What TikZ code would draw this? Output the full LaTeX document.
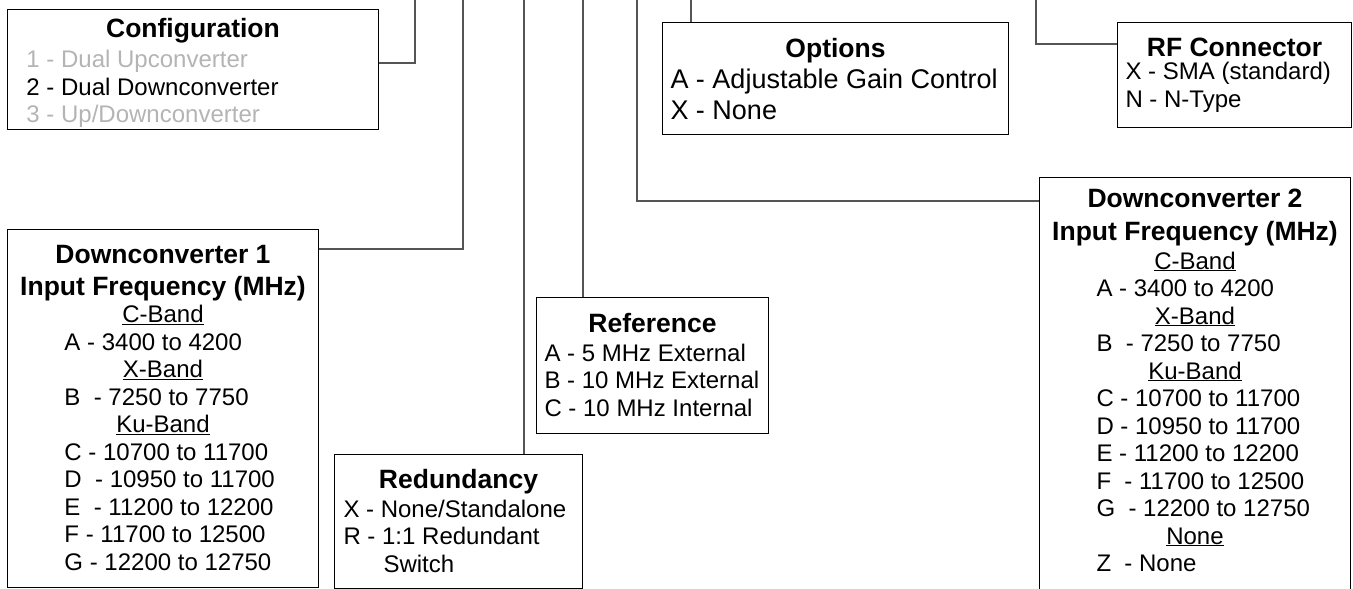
\documentclass[tikz,border=0pt]{standalone}
\usepackage{fontspec}
\setmainfont{Liberation Sans}
\usetikzlibrary{positioning}

\definecolor{wire}{HTML}{555555}
\definecolor{dim}{HTML}{B4B4B4}

\newcommand{\boxtext}[5][24]{\parbox[c][#4pt][t]{#3pt}{\fontsize{#1}{#2}\selectfont #5}}
\newcommand{\ttl}[2]{\hbox to\hsize{\hss\rule{0pt}{#1pt}\bfseries\fontsize{26.5}{30}\selectfont #2\hss}}
\newcommand{\hdr}[1]{\hbox to\hsize{\hss\underline{#1}\hss}}
\newcommand{\itm}[2]{\hbox to\hsize{\hskip#1pt #2\hss}}

\begin{document}
\begin{tikzpicture}[x=1pt,y=-1pt,
  box/.style={draw, line width=1pt, inner sep=0pt, anchor=north west},
  wire/.style={draw=wire, line width=1.5pt}]
\useasboundingbox (0,0) rectangle (1353,589);
\clip (0,0) rectangle (1353,589);

\node (cfg) [box] at (7,9) {\boxtext{27.5}{371}{120}{\ttl{27.5}{Configuration}\vskip3pt
  \itm{19}{\color{dim}1 - Dual Upconverter}
  \itm{19}{2 - Dual Downconverter}
  \itm{19}{\color{dim}3 - Up/Downconverter}}};
\node (opt) [box] at (662,22) {\boxtext[27]{31}{346}{112}{\ttl{34.5}{Options}
  \itm{8}{A - Adjustable Gain Control}
  \itm{8}{X - None}}};
\node (rf) [box] at (1117,22) {\boxtext{27.5}{234}{105}{\ttl{34}{RF Connector}\vskip-4.5pt
  \itm{8}{X - SMA (standard)}
  \itm{8}{N - N-Type}}};
\node (dc1) [box] at (7,229) {\boxtext{27.5}{311}{358}{\ttl{33.5}{Downconverter 1}\vskip4.5pt
  \ttl{0}{Input Frequency (MHz)}
  \hdr{C-Band}
  \itm{57}{A - 3400 to 4200}
  \hdr{X-Band}
  \itm{57}{B~ - 7250 to 7750}
  \hdr{Ku-Band}
  \itm{57}{C - 10700 to 11700}
  \itm{57}{D~ - 10950 to 11700}
  \itm{57}{E~ - 11200 to 12200}
  \itm{57}{F - 11700 to 12500}
  \itm{57}{G - 12200 to 12750}}};
\node (ref) [box] at (536,297) {\boxtext{27.5}{232}{136}{\ttl{34.5}{Reference}\vskip1.5pt
  \itm{8}{A - 5 MHz External}
  \itm{8}{B - 10 MHz External}
  \itm{8}{C - 10 MHz Internal}}};
\node (red) [box] at (334,454) {\boxtext{27.5}{248}{134}{\ttl{33.5}{Redundancy}\vskip1.5pt
  \itm{9}{X - None/Standalone}
  \itm{9}{R - 1:1 Redundant}
  \itm{49}{Switch}}};
\node (dc2) [box] at (1039,177) {\boxtext{27.5}{311}{430}{\ttl{30}{Downconverter 2}\vskip5.5pt
  \ttl{0}{Input Frequency (MHz)}\vskip1pt
  \hdr{C-Band}
  \itm{57}{A - 3400 to 4200}
  \hdr{X-Band}
  \itm{57}{B~ - 7250 to 7750}
  \hdr{Ku-Band}
  \itm{57}{C - 10700 to 11700}
  \itm{57}{D - 10950 to 11700}
  \itm{57}{E - 11200 to 12200}
  \itm{57}{F~ - 11700 to 12500}
  \itm{57}{G~ - 12200 to 12750}
  \hdr{None}
  \itm{57}{Z~ - None}}};

\coordinate (cfgbend) at (415,63);
\coordinate (dc1bend) at (463,249);
\coordinate (redtop) at (524,0);
\coordinate (reftop) at (583,0);
\coordinate (dc2bend) at (637,201);
\coordinate (opttop) at (691,0);
\coordinate (rfbend) at (1036,44);

\draw [wire] (cfg.east|-cfgbend) -- (cfgbend) -- (cfgbend|-redtop);
\draw [wire] (dc1.east|-dc1bend) -- (dc1bend) -- (dc1bend|-redtop);
\draw [wire] (red.north-|redtop) -- (redtop);
\draw [wire] (ref.north-|reftop) -- (reftop);
\draw [wire] (dc2.west|-dc2bend) -- (dc2bend) -- (dc2bend|-redtop);
\draw [wire] (opt.north-|opttop) -- (opttop);
\draw [wire] (rf.west|-rfbend) -- (rfbend) -- (rfbend|-redtop);
\end{tikzpicture}
\end{document}
